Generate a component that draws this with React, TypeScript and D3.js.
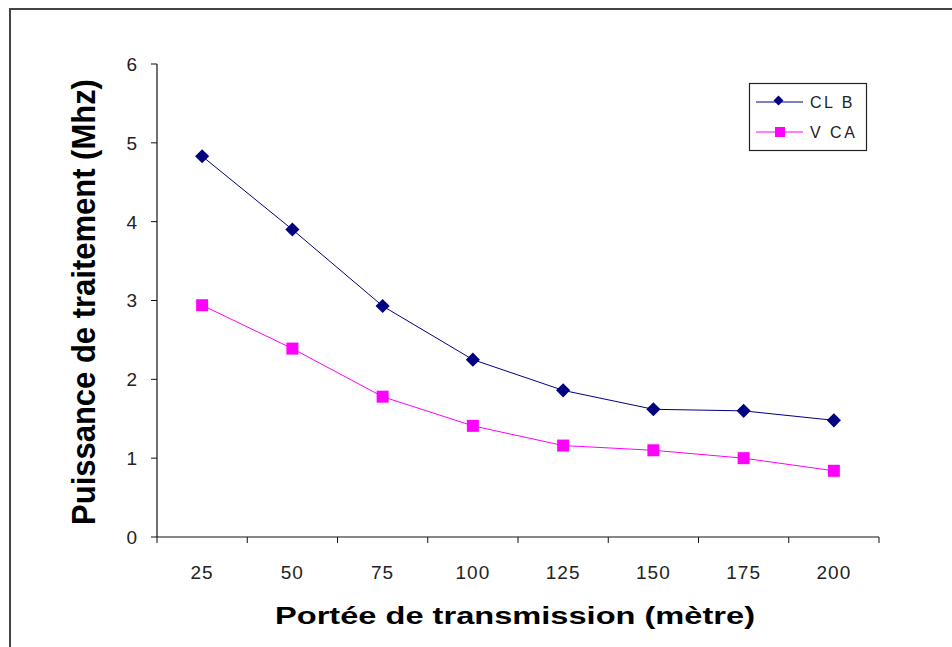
import React from "react";
import * as d3 from "d3";

const categories = ["25", "50", "75", "100", "125", "150", "175", "200"];
const clb = [4.83, 3.9, 2.93, 2.25, 1.86, 1.62, 1.6, 1.48];
const vca = [2.94, 2.39, 1.78, 1.41, 1.16, 1.1, 1.0, 0.84];
const yTicks = [0, 1, 2, 3, 4, 5, 6];

const W = 952, H = 647;
const left = 157, right = 879, top = 64, bottom = 537;

export default function App() {
  const x = d3.scaleBand<string>().domain(categories).range([left, right]);
  const y = d3.scaleLinear().domain([0, 6]).range([bottom, top]);
  const line = d3
    .line<number>()
    .x((_, i) => (x(categories[i]) as number) + x.bandwidth() / 2)
    .y((d) => y(d));
  const cx = (i: number) => (x(categories[i]) as number) + x.bandwidth() / 2;
  const font = "Arial, 'Liberation Sans', sans-serif";
  const tickEdges = [...categories.map((c) => x(c) as number), right];

  return (
    <svg width={W} height={H} style={{ position: "absolute", left: 0, top: 0 }} fontFamily={font}>
      <rect x={0} y={0} width={W} height={H} fill="white" />
      <rect x={10} y={9} width={W + 20} height={H + 20} fill="none" stroke="#444" strokeWidth={2} />
      {/* axes */}
      <line x1={left} x2={left} y1={top} y2={bottom} stroke="#111" strokeWidth={1.2} />
      <line x1={left} x2={right} y1={bottom} y2={bottom} stroke="#111" strokeWidth={1.2} />
      {yTicks.map((t) => (
        <g key={t}>
          <line x1={left - 6} x2={left} y1={y(t)} y2={y(t)} stroke="#111" />
          <text x={left - 20} y={y(t)} dy="0.36em" textAnchor="end" fontSize={19} fill="#222">
            {t}
          </text>
        </g>
      ))}
      {tickEdges.map((e, i) => (
        <line key={i} x1={e} x2={e} y1={bottom} y2={bottom + 6} stroke="#111" />
      ))}
      {categories.map((c, i) => (
        <text key={c} x={cx(i)} y={579} textAnchor="middle" fontSize={19} fill="#222" letterSpacing={1}>
          {c}
        </text>
      ))}
      {/* lines */}
      <path d={line(clb) || ""} fill="none" stroke="#000080" strokeWidth={1} />
      <path d={line(vca) || ""} fill="none" stroke="#ff00ff" strokeWidth={1} />
      {clb.map((v, i) => (
        <rect
          key={i}
          x={cx(i) - 5}
          y={y(v) - 5}
          width={10}
          height={10}
          fill="#000080"
          transform={`rotate(45 ${cx(i)} ${y(v)})`}
        />
      ))}
      {vca.map((v, i) => (
        <rect key={i} x={cx(i) - 6} y={y(v) - 6} width={12} height={12} fill="#ff00ff" />
      ))}
      {/* titles */}
      <text
        transform={`translate(95, 302) scale(1.05, 1) rotate(-90)`}
        textAnchor="middle"
        fontSize={31}
        fontWeight="bold"
        fill="#000"
      >
        Puissance de traitement (Mhz)
      </text>
      <text
        x={275}
        y={624}
        fontSize={23}
        fontWeight="bold"
        fill="#000"
        textLength={480}
        lengthAdjust="spacingAndGlyphs"
      >
        Portée de transmission (mètre)
      </text>
      {/* legend */}
      <rect x={749.5} y={83.5} width={117} height={67} fill="white" stroke="#222" strokeWidth={1.2} />
      <line x1={756} x2={803} y1={102} y2={102} stroke="#000080" />
      <rect x={775} y={97} width={7} height={7} fill="#000080" transform="rotate(45 778.5 100.5)" />
      <text x={810} y={102} dy="0.36em" fontSize={16} fill="#222" letterSpacing={2.5}>
        CL B
      </text>
      <line x1={756} x2={803} y1={132} y2={132} stroke="#ff00ff" />
      <rect x={775} y={127} width={10} height={10} fill="#ff00ff" />
      <text x={810} y={132} dy="0.36em" fontSize={16} fill="#222" letterSpacing={2.5}>
        V CA
      </text>
    </svg>
  );
}
